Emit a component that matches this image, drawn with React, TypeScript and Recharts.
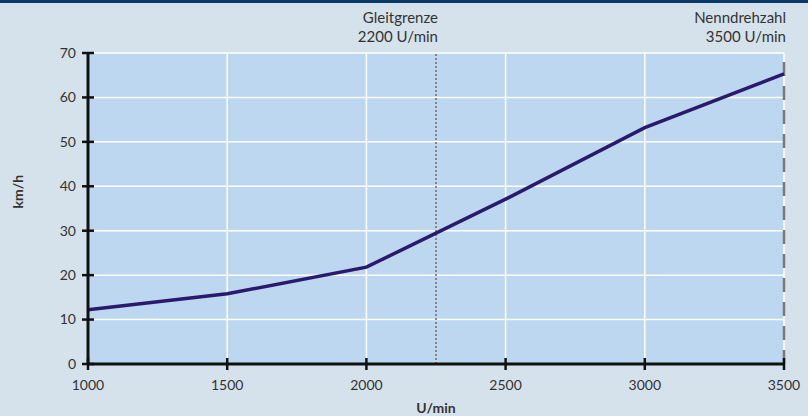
import React from "react";
import {
  LineChart,
  Line,
  XAxis,
  YAxis,
  CartesianGrid,
  ReferenceLine,
} from "recharts";

const rpm = [1000, 1500, 2000, 2500, 3000, 3500];
const speed = [12.2, 15.8, 21.8, 37.1, 53.2, 65.3];
const xTicks = [1000, 1500, 2000, 2500, 3000, 3500];
const yTicks = [0, 10, 20, 30, 40, 50, 60, 70];
const glideLimit = { x: 2250, lines: ["Gleitgrenze", "2200 U/min"] };
const ratedSpeed = { x: 3500, lines: ["Nenndrehzahl", "3500 U/min"] };

const data = rpm.map((r, i) => ({ rpm: r, speed: speed[i] }));

const FONT = "Lato, 'Open Sans', sans-serif";
const TEXT = "#333";

const XTick = (props: any) => {
  const { x, y, payload } = props;
  return (
    <g>
      <line x1={x} x2={x} y1={y - 6} y2={y + 6} stroke="#111" strokeWidth={2.5} />
      <text x={x} y={y + 26} textAnchor="middle" fill={TEXT} fontSize={14} fontFamily={FONT}>
        {payload.value}
      </text>
    </g>
  );
};

const YTick = (props: any) => {
  const { x, y, payload } = props;
  return (
    <g>
      <line x1={x - 6} x2={x + 6} y1={y} y2={y} stroke="#111" strokeWidth={2.5} />
      <text x={x - 12} y={y} dy="0.35em" textAnchor="end" fill={TEXT} fontSize={14} fontFamily={FONT}>
        {payload.value}
      </text>
    </g>
  );
};

const refLabel = (lines: string[]) => (props: any) => {
  const { viewBox } = props;
  const x = viewBox.x + 2;
  const y = viewBox.y;
  return (
    <text x={x} y={y - 30} textAnchor="end" fill={TEXT} fontSize={15} fontFamily={FONT}>
      <tspan x={x} dy={0}>{lines[0]}</tspan>
      <tspan x={x} dy={19}>{lines[1]}</tspan>
    </text>
  );
};

export default function App() {
  return (
    <div
      style={{
        position: "fixed",
        left: 0,
        top: 0,
        width: 808,
        height: 416,
        background: "#d6e2eb",
        fontFamily: FONT,
      }}
    >
      <div style={{ position: "absolute", left: 0, top: 0, width: 808, height: 3, background: "#0b3b6b" }} />
      <LineChart
        width={808}
        height={416}
        data={data}
        margin={{ top: 53, right: 24, bottom: 0, left: 0 }}
      >
        <CartesianGrid fill="#bdd7f1" stroke="#ffffff" strokeWidth={1.5} />
        <XAxis
          dataKey="rpm"
          type="number"
          domain={[1000, 3500]}
          ticks={xTicks}
          height={52}
          tickSize={0}
          tickMargin={0}
          tickLine={false}
          tick={<XTick />}
          stroke="#111"
          strokeWidth={3}
          label={{
            value: "U/min",
            position: "insideBottom",
            offset: 3,
            fill: TEXT,
            fontSize: 14,
            fontWeight: 700,
            fontFamily: FONT,
          }}
        />
        <YAxis
          type="number"
          domain={[0, 70]}
          ticks={yTicks}
          width={88}
          tickSize={0}
          tickMargin={0}
          tickLine={false}
          tick={<YTick />}
          stroke="#111"
          strokeWidth={3}
          label={{
            value: "km/h",
            angle: -90,
            position: "insideLeft",
            offset: 18,
            fill: TEXT,
            fontSize: 14,
            fontWeight: 700,
            fontFamily: FONT,
          }}
        />
        <ReferenceLine
          x={glideLimit.x}
          stroke="#858585"
          strokeWidth={2}
          strokeDasharray="2 2"
          label={refLabel(glideLimit.lines)}
        />
        <ReferenceLine
          x={ratedSpeed.x}
          stroke="#7a7a7a"
          strokeWidth={2.5}
          strokeDasharray="14 10"
          label={refLabel(ratedSpeed.lines)}
        />
        <Line
          type="linear"
          dataKey="speed"
          stroke="#2a1a6e"
          strokeWidth={3.5}
          dot={false}
          isAnimationActive={false}
        />
      </LineChart>
    </div>
  );
}
